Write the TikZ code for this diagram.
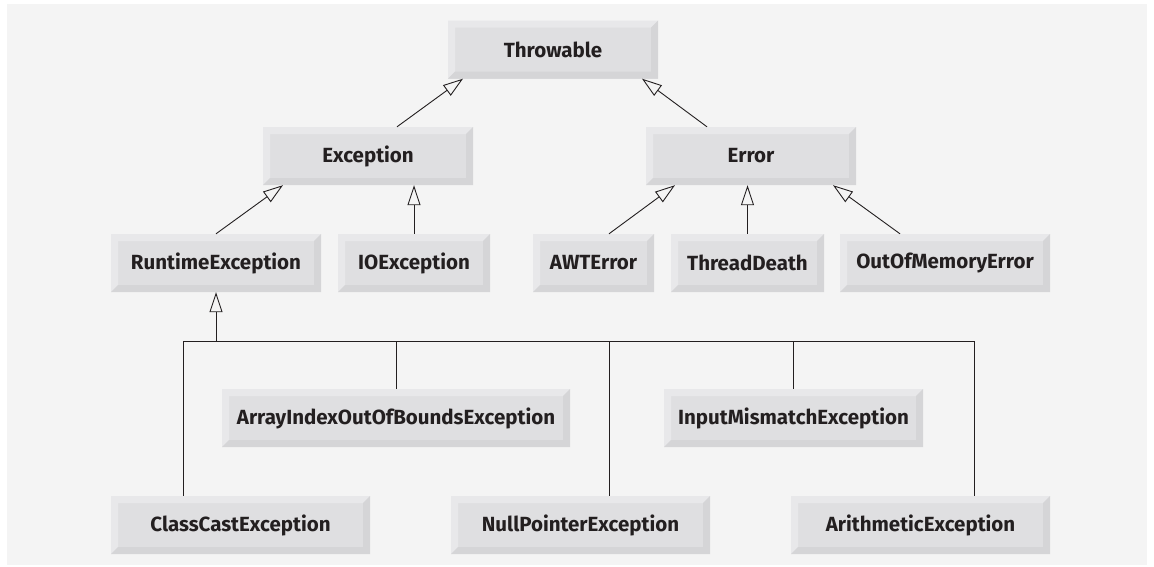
\documentclass[tikz,border=0pt]{standalone}
\usepackage{fontspec}
\setsansfont{Fira Sans}
\usetikzlibrary{arrows.meta}
\definecolor{panel}{HTML}{F4F4F4}
\definecolor{face}{HTML}{DFDFE1}
\definecolor{rimlight}{HTML}{E8E8EA}
\definecolor{rimdark}{HTML}{D5D5D7}
\definecolor{ink}{HTML}{231F20}
\begin{document}
\begin{tikzpicture}[x=1pt, y=-1pt,
    classbox/.style={minimum height=58pt, inner sep=0pt, fill=face, text=ink,
      font=\sffamily\bfseries\fontsize{20.5}{24}\selectfont,
      path picture={
        \path (path picture bounding box.south west) coordinate (boxsw)
              (path picture bounding box.north east) coordinate (boxne);
        \fill[rimlight] (boxsw) |- (boxne) -- ++(-7pt,-7pt) -| ([shift={(7pt,7pt)}]boxsw) -- cycle;
        \fill[rimdark] (boxsw) -| (boxne) -- ++(-7pt,-7pt) |- ([shift={(7pt,7pt)}]boxsw) -- cycle;
      }},
    inherit/.style={-{Triangle[open, length=20pt, width=13pt]}, line width=0.9pt, draw=ink},
    branch/.style={line width=0.9pt, draw=ink}
  ]
  \useasboundingbox (0,0) rectangle (1154,566);
  \fill[panel] (7,4) rectangle (1147,565);

  \foreach \name/\x/\y/\w/\txt in {
      thr/553/49.5/210/Throwable,
      exc/368/156/210/Exception,
      err/751/156/210/Error,
      rte/216/263/210/RuntimeException,
      ioe/414/263/152/IOException,
      awt/593.5/263/121/AWTError,
      thd/747.5/263/153/ThreadDeath,
      oom/945/263/210/OutOfMemoryError,
      aio/396/418/348/ArrayIndexOutOfBoundsException,
      ime/793.5/418/259/InputMismatchException,
      cce/240.5/525/259/ClassCastException,
      npe/580.5/525/259/NullPointerException,
      ari/920.5/525/259/ArithmeticException} {
    \node[classbox, minimum width=\w pt] (\name) at (\x,\y) {\txt};
  }

  \draw[inherit] ([xshift=29pt]exc.north) -- ([xshift=-90pt]thr.south);
  \draw[inherit] ([xshift=-44pt]err.north) -- ([xshift=89pt]thr.south);
  \draw[inherit] (rte.north) -- ([xshift=-85pt]exc.south);
  \draw[inherit] (ioe.north) -- (ioe.north |- exc.south);
  \draw[inherit] ([xshift=15.5pt]awt.north) -- ([xshift=-76pt]err.south);
  \draw[inherit] (thd.north) -- (thd.north |- err.south);
  \draw[inherit] ([xshift=-45pt]oom.north) -- ([xshift=82pt]err.south);

  % subclasses of RuntimeException
  \coordinate (busR) at (974,341);
  \draw[branch] ([xshift=-57.5pt]cce.north) |- (busR) -- ([xshift=53.5pt]ari.north);
  \draw[branch] (aio.north) -- (aio.north |- busR);
  \draw[branch] ([xshift=28.5pt]npe.north) -- ([xshift=28.5pt]npe.north |- busR);
  \draw[branch] (ime.north) -- (ime.north |- busR);
  \draw[inherit] (rte.south |- busR) -- (rte.south);
\end{tikzpicture}
\end{document}
